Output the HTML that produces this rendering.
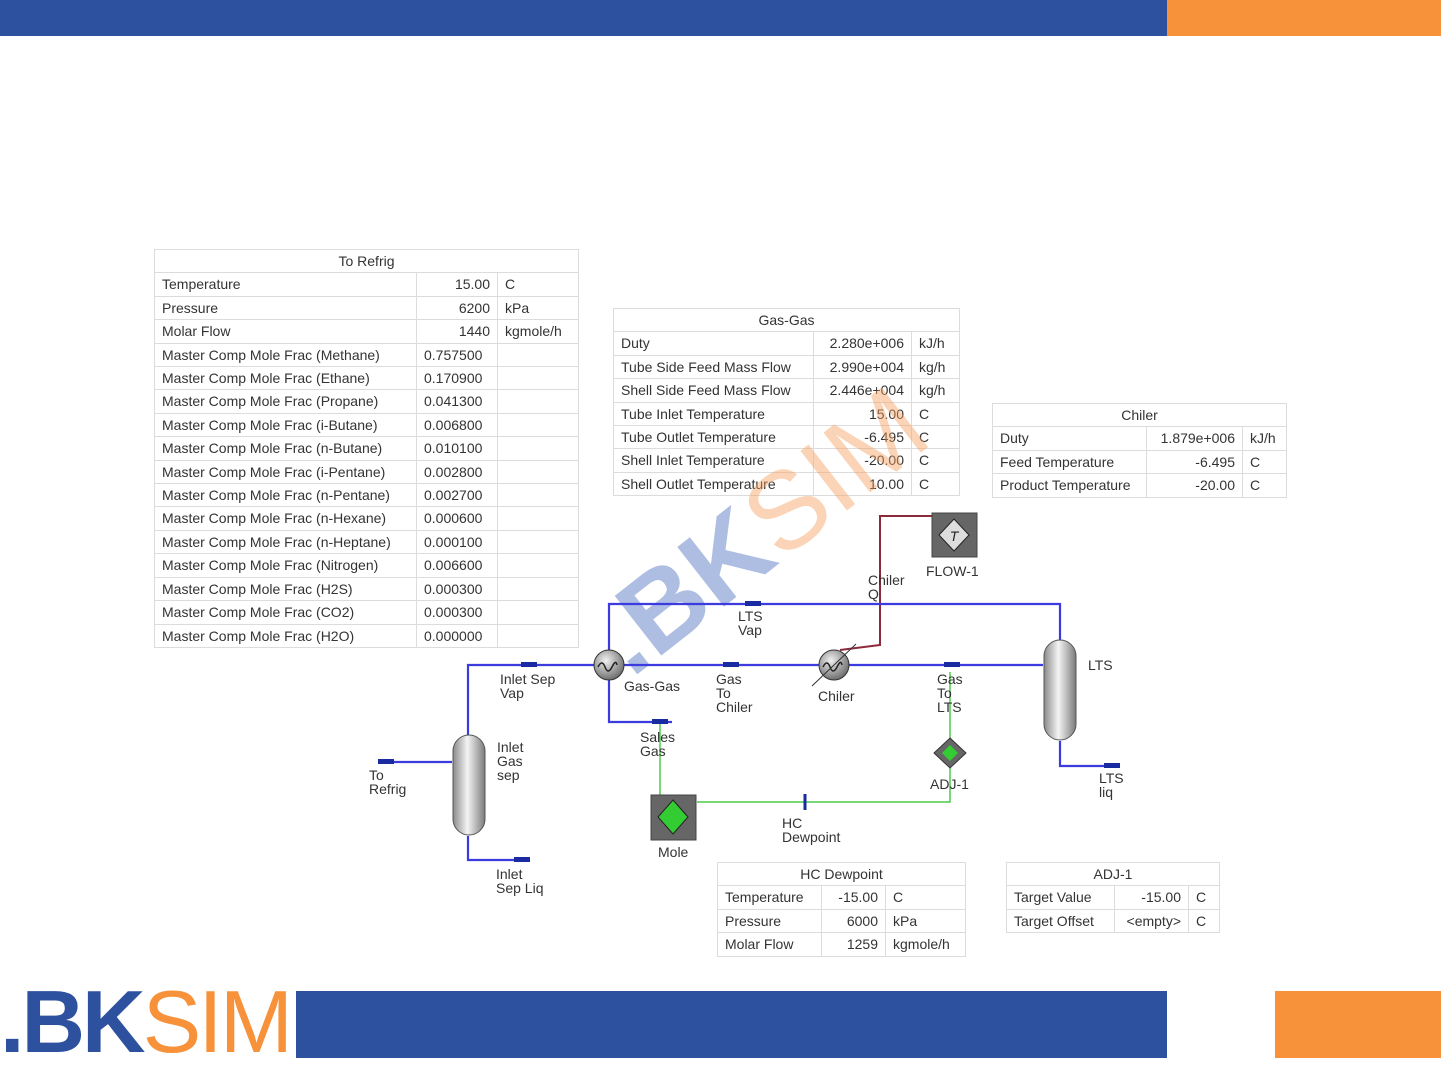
<!DOCTYPE html>
<html><head><meta charset="utf-8">
<style>
html,body{margin:0;padding:0;background:#fff;}
body{width:1441px;height:1081px;position:relative;overflow:hidden;font-family:"Liberation Sans",sans-serif;}
.bar{position:absolute;}
table{position:absolute;border-collapse:collapse;table-layout:fixed;font-size:14px;color:#333;background:#fff;}
td{border:1px solid #dcdcdc;padding:0 7px;white-space:nowrap;overflow:hidden;height:22.4px;line-height:22.4px;}
td.t{text-align:center;}
td.r{text-align:right;}
svg{position:absolute;left:0;top:0;}
.lbl{font-family:"Liberation Sans",sans-serif;font-size:14px;fill:#333;}
</style></head><body>
<div class="bar" style="left:0;top:0;width:1167px;height:36px;background:#2e519f"></div>
<div class="bar" style="left:1167px;top:0;width:274px;height:36px;background:#f7923a"></div>
<div class="bar" style="left:296px;top:991px;width:871px;height:67px;background:#2e519f"></div>
<div class="bar" style="left:1275px;top:991px;width:166px;height:67px;background:#f7923a"></div>
<div style="position:absolute;left:0px;top:978px;font-size:88px;font-weight:bold;letter-spacing:-3px;line-height:88px;"><span style="color:#2e519f">.BK</span><span style="color:#f7923a;font-weight:normal">SIM</span></div>

<table style="left:154px;top:249px;width:424px;">
<colgroup><col style="width:262px"><col style="width:81px"><col style="width:81px"></colgroup>
<tr><td class="t" colspan="3">To Refrig</td></tr>
<tr><td>Temperature</td><td class="r">15.00</td><td>C</td></tr>
<tr><td>Pressure</td><td class="r">6200</td><td>kPa</td></tr>
<tr><td>Molar Flow</td><td class="r">1440</td><td>kgmole/h</td></tr>
<tr><td>Master Comp Mole Frac (Methane)</td><td>0.757500</td><td></td></tr>
<tr><td>Master Comp Mole Frac (Ethane)</td><td>0.170900</td><td></td></tr>
<tr><td>Master Comp Mole Frac (Propane)</td><td>0.041300</td><td></td></tr>
<tr><td>Master Comp Mole Frac (i-Butane)</td><td>0.006800</td><td></td></tr>
<tr><td>Master Comp Mole Frac (n-Butane)</td><td>0.010100</td><td></td></tr>
<tr><td>Master Comp Mole Frac (i-Pentane)</td><td>0.002800</td><td></td></tr>
<tr><td>Master Comp Mole Frac (n-Pentane)</td><td>0.002700</td><td></td></tr>
<tr><td>Master Comp Mole Frac (n-Hexane)</td><td>0.000600</td><td></td></tr>
<tr><td>Master Comp Mole Frac (n-Heptane)</td><td>0.000100</td><td></td></tr>
<tr><td>Master Comp Mole Frac (Nitrogen)</td><td>0.006600</td><td></td></tr>
<tr><td>Master Comp Mole Frac (H2S)</td><td>0.000300</td><td></td></tr>
<tr><td>Master Comp Mole Frac (CO2)</td><td>0.000300</td><td></td></tr>
<tr><td>Master Comp Mole Frac (H2O)</td><td>0.000000</td><td></td></tr>
</table>

<table style="left:613px;top:308px;width:346px;">
<colgroup><col style="width:200px"><col style="width:98px"><col style="width:48px"></colgroup>
<tr><td class="t" colspan="3">Gas-Gas</td></tr>
<tr><td>Duty</td><td class="r">2.280e+006</td><td>kJ/h</td></tr>
<tr><td>Tube Side Feed Mass Flow</td><td class="r">2.990e+004</td><td>kg/h</td></tr>
<tr><td>Shell Side Feed Mass Flow</td><td class="r">2.446e+004</td><td>kg/h</td></tr>
<tr><td>Tube Inlet Temperature</td><td class="r">15.00</td><td>C</td></tr>
<tr><td>Tube Outlet Temperature</td><td class="r">-6.495</td><td>C</td></tr>
<tr><td>Shell Inlet Temperature</td><td class="r">-20.00</td><td>C</td></tr>
<tr><td>Shell Outlet Temperature</td><td class="r">10.00</td><td>C</td></tr>
</table>

<table style="left:992px;top:403px;width:294px;">
<colgroup><col style="width:154px"><col style="width:96px"><col style="width:44px"></colgroup>
<tr><td class="t" colspan="3">Chiler</td></tr>
<tr><td>Duty</td><td class="r">1.879e+006</td><td>kJ/h</td></tr>
<tr><td>Feed Temperature</td><td class="r">-6.495</td><td>C</td></tr>
<tr><td>Product Temperature</td><td class="r">-20.00</td><td>C</td></tr>
</table>

<table style="left:717px;top:862px;width:248px;">
<colgroup><col style="width:104px"><col style="width:64px"><col style="width:80px"></colgroup>
<tr><td class="t" colspan="3">HC Dewpoint</td></tr>
<tr><td>Temperature</td><td class="r">-15.00</td><td>C</td></tr>
<tr><td>Pressure</td><td class="r">6000</td><td>kPa</td></tr>
<tr><td>Molar Flow</td><td class="r">1259</td><td>kgmole/h</td></tr>
</table>

<table style="left:1006px;top:862px;width:213px;">
<colgroup><col style="width:108px"><col style="width:74px"><col style="width:31px"></colgroup>
<tr><td class="t" colspan="3">ADJ-1</td></tr>
<tr><td>Target Value</td><td class="r">-15.00</td><td>C</td></tr>
<tr><td>Target Offset</td><td class="r">&lt;empty&gt;</td><td>C</td></tr>
</table>

<svg width="1441" height="1081" viewBox="0 0 1441 1081">
<defs>
<linearGradient id="vg" x1="0" x2="1" y1="0" y2="0">
<stop offset="0" stop-color="#8a8a8a"/><stop offset="0.45" stop-color="#f4f4f4"/><stop offset="1" stop-color="#7a7a7a"/></linearGradient>
<radialGradient id="hx" cx="0.4" cy="0.35" r="0.7"><stop offset="0" stop-color="#f0f0f0"/><stop offset="1" stop-color="#666"/></radialGradient>
</defs>
<g transform="translate(725,555) rotate(-38)" opacity="0.45">
<text x="-150" y="40" font-family="Liberation Sans" font-size="110" font-weight="bold" fill="#4d6fc0">.BK</text>
<text x="40" y="40" font-family="Liberation Sans" font-size="110" fill="#f7a060">SIM</text>
</g>
<polyline points="840,650 880,645 880,516 932,516" fill="none" stroke="#8b2a3a" stroke-width="2"/>
<g stroke="#4ccc4c" stroke-width="1.5" fill="none">
<line x1="660" y1="724" x2="660" y2="795"/>
<polyline points="697,802 950,802 950,768"/>
<line x1="950" y1="738" x2="950" y2="672"/>
</g>
<line x1="805" y1="794" x2="805" y2="810" stroke="#1a2aa0" stroke-width="3"/>
<g stroke="#3b3be0" stroke-width="2.2" fill="none">
<line x1="378" y1="762" x2="452" y2="762"/>
<polyline points="468,735 468,665 595,665"/>
<polyline points="468,836 468,860 530,860"/>
<line x1="624" y1="665" x2="819" y2="665"/>
<line x1="849" y1="665" x2="1043" y2="665"/>
<polyline points="1060,640 1060,604 609,604 609,650"/>
<polyline points="609,680 609,722 672,722"/>
<polyline points="1060,741 1060,766 1120,766"/>
</g>
<g fill="#1a2aa0">
<rect x="378" y="759" width="16" height="5"/><rect x="514" y="857" width="16" height="5"/>
<rect x="521" y="662" width="16" height="5"/><rect x="745" y="601" width="16" height="5"/>
<rect x="723" y="662" width="16" height="5"/><rect x="944" y="662" width="16" height="5"/>
<rect x="652" y="719" width="16" height="5"/><rect x="1104" y="763" width="16" height="5"/>
</g>
<rect x="453" y="735" width="32" height="100" rx="16" fill="url(#vg)" stroke="#555"/>
<rect x="1044" y="640" width="32" height="100" rx="16" fill="url(#vg)" stroke="#555"/>
<circle cx="609" cy="665" r="15" fill="url(#hx)" stroke="#333"/>
<path d="M598,667 q4,-8 7,0 t7,0 t5,-2" fill="none" stroke="#222" stroke-width="1.5"/>
<circle cx="834" cy="665" r="15" fill="url(#hx)" stroke="#333"/>
<path d="M823,667 q4,-8 7,0 t7,0 t5,-2" fill="none" stroke="#222" stroke-width="1.5"/>
<line x1="812" y1="686" x2="856" y2="644" stroke="#333" stroke-width="1"/>
<rect x="932" y="513" width="45" height="44" fill="#666" stroke="#444"/>
<path d="M954,519 l15,16 l-15,16 l-15,-16z" fill="#ddd" stroke="#222"/>
<text x="954" y="541" font-family="Liberation Sans" font-size="14" font-style="italic" text-anchor="middle" fill="#222">T</text>
<rect x="651" y="795" width="45" height="45" fill="#666" stroke="#444"/>
<path d="M673,800 l15,17 l-15,17 l-15,-17z" fill="#3c3" stroke="#222"/>
<path d="M950,738 l16,15 l-16,15 l-16,-15z" fill="#666" stroke="#333"/>
<path d="M950,745 l8,8 l-8,8 l-8,-8z" fill="#3c3"/>
<g class="lbl">
<text x="369" y="780">To</text><text x="369" y="794">Refrig</text>
<text x="497" y="752">Inlet</text><text x="497" y="766">Gas</text><text x="497" y="780">sep</text>
<text x="496" y="879">Inlet</text><text x="496" y="893">Sep Liq</text>
<text x="500" y="684">Inlet Sep</text><text x="500" y="698">Vap</text>
<text x="624" y="691">Gas-Gas</text>
<text x="716" y="684">Gas</text><text x="716" y="698">To</text><text x="716" y="712">Chiler</text>
<text x="818" y="701">Chiler</text>
<text x="738" y="621">LTS</text><text x="738" y="635">Vap</text>
<text x="868" y="585">Chiler</text><text x="868" y="599">Q</text>
<text x="926" y="576">FLOW-1</text>
<text x="937" y="684">Gas</text><text x="937" y="698">To</text><text x="937" y="712">LTS</text>
<text x="1088" y="670">LTS</text>
<text x="1099" y="783">LTS</text><text x="1099" y="797">liq</text>
<text x="640" y="742">Sales</text><text x="640" y="756">Gas</text>
<text x="930" y="789">ADJ-1</text>
<text x="782" y="828">HC</text><text x="782" y="842">Dewpoint</text>
<text x="658" y="857">Mole</text>
</g>
</svg>
</body></html>
